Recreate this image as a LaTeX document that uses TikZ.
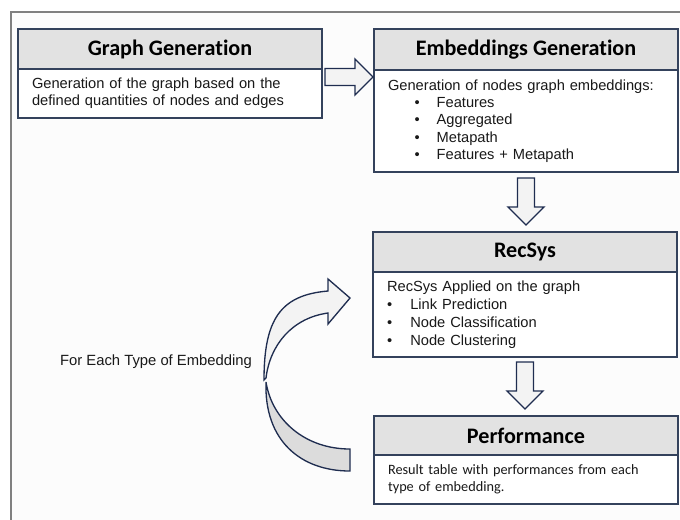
\documentclass[tikz,border=0pt]{standalone}
\usepackage{fontspec}
\setmainfont{Liberation Sans}
\newfontfamily\calibri[Ligatures=NoCommon]{Carlito}
\usepackage{tikz}
\usetikzlibrary{positioning,calc}
\definecolor{boxline}{RGB}{52,66,92}
\definecolor{arrowline}{RGB}{31,45,80}
\definecolor{headgray}{RGB}{226,226,226}
\definecolor{framegray}{RGB}{128,128,128}
\definecolor{paper}{RGB}{252,252,252}
\definecolor{arrowfill}{RGB}{243,243,243}
\definecolor{backfill}{RGB}{220,220,220}
\newcommand{\embitem}[1]{\hspace*{20pt}\makebox[16.5pt][l]{\textbullet}#1}
\newcommand{\recitem}[1]{\makebox[17.5pt][l]{\textbullet}#1}

\begin{document}
\begin{tikzpicture}[
  x=0.75pt, y=-0.75pt,
  head/.style={
    draw=boxline, fill=headgray, line width=0.9pt, outer sep=0pt,
    minimum width=228pt, minimum height=30pt, anchor=north west,
    font=\calibri\bfseries\fontsize{16.6}{19}\selectfont
  },
  body/.style={
    draw=boxline, fill=white, line width=0.9pt, outer sep=0pt,
    text width=207pt, inner xsep=10.5pt, inner ysep=0pt, align=left,
    font=\fontsize{11}{13}\selectfont, text=black!90
  },
  fatline/.style={draw=arrowline, fill=arrowfill, line width=1pt, line join=miter},
  fatarrow/.pic={
    \draw[fatline] (0,-8.5) -- (#1-18,-8.5) -- (#1-18,-18) -- (#1,0)
      -- (#1-18,18) -- (#1-18,8.5) -- (0,8.5) -- cycle;
  },
  lbl/.style={font=\fontsize{11.1}{13}\selectfont, text=black!90}
]
\useasboundingbox[fill=white] (0,0) rectangle (680,519);
\draw[framegray, fill=paper, line width=1.5pt] (11,12) rectangle (700,540);

\node[head] (gg-head) at (18,29) {Graph Generation};
\node[body, minimum height=36.75pt, below=0pt of gg-head]
  (gg-body) {Generation of the graph based on the\\defined quantities of nodes and edges};

\node[head, minimum height=30.75pt] (eg-head) at (374,29) {Embeddings Generation};
\node[body, minimum height=76.5pt, below=0pt of eg-head] (eg-body)
  {Generation of nodes graph embeddings:\\
   \embitem{Features}\\
   \embitem{Aggregated}\\
   \embitem{Metapath}\\
   \embitem{Features + Metapath}};

\node[head] (rs-head) at (373,232) {RecSys};
\node[body, minimum height=63.75pt, below=0pt of rs-head, font=\fontsize{11}{13.5}\selectfont]
  (rs-body) {RecSys Applied on the graph\\
   \recitem{Link Prediction}\\
   \recitem{Node Classification}\\
   \recitem{Node Clustering}};

\node[head, minimum height=29.25pt] (pf-head) at (374,416) {Performance};
\node[body, minimum height=36.75pt, below=0pt of pf-head, font=\calibri\fontsize{10.7}{12.75}\selectfont]
  (pf-body) {Result table with performances from each\\type of embedding.};

\pic at ($(gg-head.south east)+(3,8)$) {fatarrow=48};
\pic[rotate=-90] at ($(eg-body.south)+(0,6)$) {fatarrow=47};
\pic[rotate=-90] at ($(rs-body.south)+(0,5)$) {fatarrow=47};

\node[lbl] (loop-lbl) at (156,362) {For Each Type of Embedding};

\draw[fatline, fill=backfill] (350,449) .. controls (305,449) and (272,420) .. (266,382)
  .. controls (264,440) and (300,471) .. (350,471) -- cycle;
\draw[fatline] (264,380) .. controls (264,320) and (280,295) .. (328,291)
  -- (328,279) -- (350,298) -- (328,324) -- (328,313)
  .. controls (292,318) and (270,345) .. (266,378) -- cycle;
\end{tikzpicture}
\end{document}
